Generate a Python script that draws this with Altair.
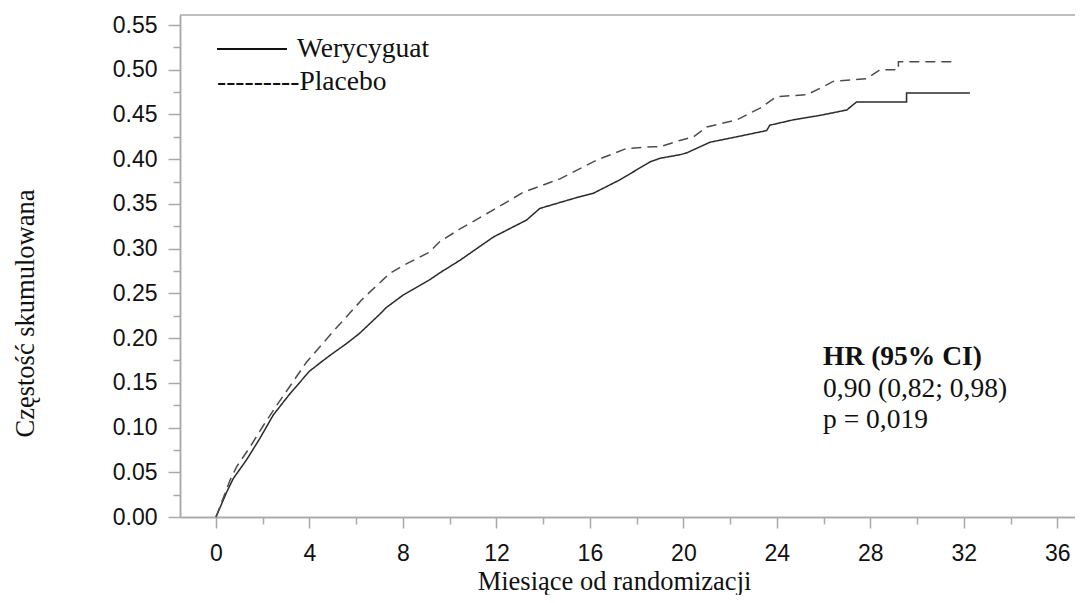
import altair as alt
import pandas as pd

# ---- data ----
series_names = ["Werycyguat", "Placebo"]

months_wer = [0, 0.46, 0.74, 1.31, 1.88, 2.45, 3.17, 4.0, 4.59, 5.0, 5.59, 6.13, 7.02, 7.28,
              8.0, 9.13, 9.58, 10.44, 11.87, 13.29, 13.86, 15.29, 16.15, 17.29, 18.57, 19.0,
              19.85, 20.14, 21.14, 22.28, 23.56, 23.7, 24.7, 25.85, 26.99, 27.41, 29.55, 29.55, 32.26]
cum_wer = [0, 0.028, 0.043, 0.064, 0.088, 0.114, 0.138, 0.163, 0.175, 0.183, 0.194, 0.205, 0.227, 0.234,
           0.248, 0.265, 0.273, 0.287, 0.313, 0.332, 0.345, 0.356, 0.362, 0.377, 0.397, 0.401,
           0.405, 0.407, 0.419, 0.425, 0.432, 0.438, 0.444, 0.449, 0.455, 0.464, 0.464, 0.474, 0.474]

months_pla = [0, 0.6, 0.88, 1.45, 2.02, 2.6, 3.0, 3.87, 5.0, 6.28, 7.42, 8.0, 9.13, 9.58, 10.44,
              11.58, 13.15, 14.72, 16.29, 17.57, 18.71, 19.0, 19.85, 20.43, 21.0, 22.28, 23.28,
              23.99, 25.28, 26.13, 26.41, 27.84, 28.41, 29.2, 29.2, 31.55]
cum_pla = [0, 0.041, 0.056, 0.078, 0.102, 0.125, 0.140, 0.173, 0.207, 0.244, 0.272, 0.281, 0.296, 0.308, 0.322,
           0.339, 0.363, 0.378, 0.399, 0.412, 0.414, 0.414, 0.421, 0.425, 0.436, 0.444, 0.457,
           0.470, 0.472, 0.483, 0.487, 0.490, 0.500, 0.500, 0.509, 0.509]

x_major = [0, 4, 8, 12, 16, 20, 24, 28, 32, 36]
x_minor = [2, 6, 10, 14, 18, 22, 26, 30, 34]
y_major = [0.0, 0.05, 0.10, 0.15, 0.20, 0.25, 0.30, 0.35, 0.40, 0.45, 0.50, 0.55]
y_minor = [0.025, 0.075, 0.125, 0.175, 0.225, 0.275, 0.325, 0.375, 0.425, 0.475, 0.525]

legend_solid_label = ["Werycyguat"]
legend_dash_label = ["---------Placebo"]
hr_header = ["HR (95% CI)"]
hr_body = ["0,90 (0,82; 0,98)\np = 0,019"]
x_title = "Miesiące od randomizacji"
y_title = "Częstość skumulowana"

# ---- build table ----
rows = []
for i, (m, v) in enumerate(zip(months_wer, cum_wer)):
    rows.append({"series": series_names[0], "month": m, "value": v, "idx": i})
for i, (m, v) in enumerate(zip(months_pla, cum_pla)):
    rows.append({"series": series_names[1], "month": m, "value": v, "idx": i})
df = pd.DataFrame(rows)

GRAY = "#a9a9a9"
PX_PER_MONTH = 23.37
W, H = 895, 502
xs = alt.Scale(domain=[-1.54, -1.54 + W / PX_PER_MONTH], nice=False, zero=False)
ys = alt.Scale(domain=[0, 0.5612], nice=False, zero=False)

major_x = alt.Axis(values=x_major, title=x_title, tickSize=11, labelPadding=14, orient="bottom",
                   titleX=434, titleY=72, titleBaseline="alphabetic", titleAnchor="start",
                   titleAlign="center", labelFlush=False, labelOverlap=False, labelBound=False)
major_y = alt.Axis(values=y_major, title=y_title, format=".2f", tickSize=12, labelPadding=11,
                   orient="left", titleX=-155, titleY=298, titleAngle=270, titleAlign="center",
                   titleBaseline="middle", labelFlush=False, labelOverlap=False, labelBound=False)
minor_x = alt.Axis(values=x_minor, title=None, labels=False, tickSize=7, orient="bottom")
minor_y = alt.Axis(values=y_minor, title=None, labels=False, tickSize=7, orient="left")

lines = alt.Chart(df).mark_line(strokeWidth=1.5).encode(
    x=alt.X("month:Q", scale=xs, axis=major_x),
    y=alt.Y("value:Q", scale=ys, axis=major_y),
    color=alt.Color("series:N", scale=alt.Scale(domain=series_names, range=["#2a2a2a", "#4d4d4d"]), legend=None),
    strokeDash=alt.StrokeDash("series:N", scale=alt.Scale(domain=series_names, range=[[1, 0], [10, 6]]), legend=None),
    order=alt.Order("idx:Q"),
)

minor = alt.Chart(df).mark_point(opacity=0).encode(
    x=alt.X("month:Q", scale=xs, axis=minor_x),
    y=alt.Y("value:Q", scale=ys, axis=minor_y),
)

top_border = alt.Chart(pd.DataFrame({"k": [0]})).mark_rule(color=GRAY, strokeWidth=1.5).encode(
    x=alt.value(0), x2=alt.value(W), y=alt.value(0)
)

legend_line = alt.Chart(pd.DataFrame({"k": [0]})).mark_rule(color="#111111", strokeWidth=1.8).encode(
    x=alt.value(37), x2=alt.value(107), y=alt.value(34)
)

SERIF = "Liberation Serif"
leg1 = alt.Chart(pd.DataFrame({"t": legend_solid_label})).mark_text(
    font=SERIF, fontSize=27.5, align="left", baseline="alphabetic", color="#111111"
).encode(text="t:N", x=alt.value(117), y=alt.value(42))
leg2 = alt.Chart(pd.DataFrame({"t": legend_dash_label})).mark_text(
    font=SERIF, fontSize=27.5, align="left", baseline="alphabetic", color="#111111"
).encode(text="t:N", x=alt.value(37), y=alt.value(75))

ann1 = alt.Chart(pd.DataFrame({"t": hr_header})).mark_text(
    font=SERIF, fontSize=27.5, fontWeight="bold", align="left", baseline="alphabetic", color="#111111"
).encode(text="t:N", x=alt.value(643), y=alt.value(350))
ann2 = alt.Chart(pd.DataFrame({"t": hr_body})).mark_text(
    font=SERIF, fontSize=27.5, align="left", baseline="alphabetic", color="#111111",
    lineBreak="\n", lineHeight=31
).encode(text="t:N", x=alt.value(643), y=alt.value(382))

chart = alt.layer(lines, minor, top_border, legend_line, leg1, leg2, ann1, ann2).resolve_axis(
    x="independent", y="independent"
).properties(
    width=W, height=H,
    autosize=alt.AutoSizeParams(type="none"),
    padding={"left": 172, "top": 7, "right": 0, "bottom": 78},
    background="white",
).configure_view(stroke=None).configure_axis(
    domainColor=GRAY, tickColor=GRAY, domainWidth=1.5, tickWidth=1.5, grid=False,
    labelFont="Liberation Sans", labelFontSize=23, labelColor="#111111",
    titleFont=SERIF, titleFontSize=26.5, titleFontWeight="normal", titleColor="#111111",
)

chart.save("out.html", embed_options={"renderer": "svg", "actions": False})
